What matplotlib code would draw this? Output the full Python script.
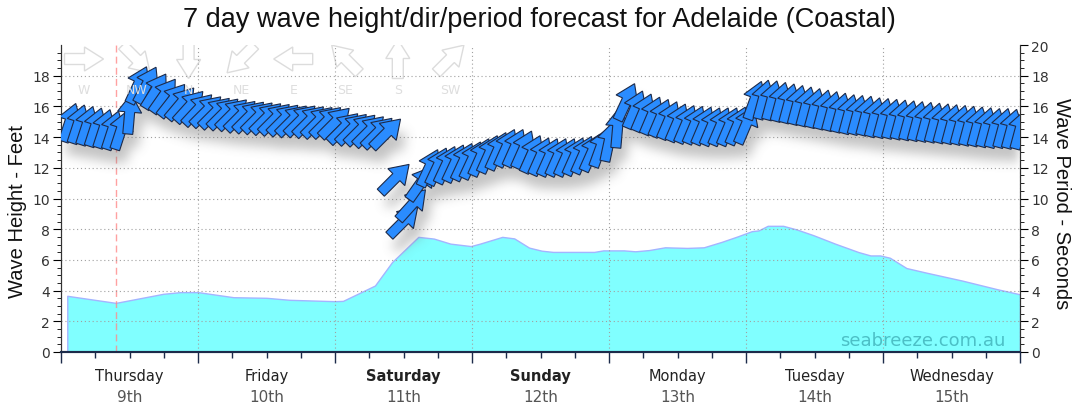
import numpy as np
import matplotlib
matplotlib.use("Agg")
import matplotlib.pyplot as plt
from matplotlib.patches import Polygon
from matplotlib.path import Path
from matplotlib.transforms import blended_transform_factory

plt.rcParams['font.family'] = ['DejaVu Sans']

# --- hauteur des vagues (pieds): heure depuis jeudi 0h ---
haut_h = [1.1, 9.6, 17.9, 20.9, 24, 30.2, 36, 40, 48, 49.4, 55, 58, 62.6, 65.3, 68.2,
          71.8, 73.4, 77.3, 79.4, 82, 84.2, 86.2, 93.4, 95, 98.6, 100.6, 103, 105.8,
          109.7, 112.6, 115.7, 118.6, 121, 122.2, 123.8, 126.5, 128.9, 131.8, 135.6,
          139.7, 141.8, 143.5, 145.2, 148.1, 151.7, 157.9, 163.9, 167.5, 168]
haut_ft = [3.66, 3.2, 3.79, 3.9, 3.9, 3.57, 3.53, 3.4, 3.31, 3.33, 4.33, 5.86, 7.5, 7.39, 7.06,
           6.9, 7.06, 7.5, 7.4, 6.8, 6.6, 6.52, 6.52, 6.62, 6.62, 6.56, 6.64, 6.82,
           6.78, 6.82, 7.17, 7.54, 7.87, 7.92, 8.22, 8.22, 7.98, 7.61, 7.06,
           6.51, 6.29, 6.29, 6.14, 5.47, 5.16, 4.65, 4.1, 3.8, 3.75]

# --- période (s) et direction de provenance (deg), une flèche toutes les 1.5 h ---
pas_h = 1.5
periode = [14.95, 14.85, 14.75, 14.65, 14.55, 14.45, 14.45,
           15.5,
           17.4, 17.4, 17.0, 16.7, 16.4, 16.2, 16.0, 15.8,
           15.7, 15.6, 15.55, 15.5, 15.4, 15.35, 15.3, 15.25, 15.2, 15.15, 15.1, 15.1, 15.05, 15.0, 15.0, 14.95,
           14.6, 14.55, 14.5, 14.4, 14.3, 14.25,
           11.3,
           8.5, 9.6, 11.0, 12.0, 12.1, 12.2, 12.3, 12.4, 12.5,
           12.7, 12.9, 13.1, 13.3, 13.3, 13.2, 12.9, 12.75, 12.7, 12.7, 12.7, 12.75, 12.85, 13.0, 13.3, 13.7,
           14.6, 16.3, 15.8, 15.6, 15.4, 15.25, 15.1, 14.95, 14.85, 14.8, 14.75, 14.7, 14.7, 14.7, 14.75, 14.8,
           16.4, 16.45, 16.4, 16.3, 16.2, 16.1, 16.0, 15.9, 15.8, 15.7, 15.6, 15.5, 15.45, 15.4, 15.3, 15.25,
           15.2, 15.15, 15.1, 15.05, 15.0, 14.95, 14.9, 14.85, 14.8, 14.75, 14.7, 14.65, 14.6, 14.6, 14.55, 14.5]
direction = ([198]*7 + [185] +
             [205, 208, 212, 215, 218, 220, 222, 223] + [225]*16 + [225]*6 + [225] +
             [225, 222, 215] + [205]*6 +
             [204]*14 + [200, 192] +
             [185, 205] + [203]*14 +
             [200] + [195]*31)

jours = ["Thursday", "Friday", "Saturday", "Sunday", "Monday", "Tuesday", "Wednesday"]
dates = ["9th", "10th", "11th", "12th", "13th", "14th", "15th"]
weekend = ["Saturday", "Sunday"]
boussole = ["W", "NW", "N", "NE", "E", "SE", "S", "SW"]
boussole_deg = [270, 315, 0, 45, 90, 135, 180, 225]
maintenant_h = 9.6

W, H = 1080, 414
fig = plt.figure(figsize=(W/100, H/100), dpi=100)
ax = fig.add_axes([61/W, 61/H, 959/W, 307/H])
ax2 = ax.twinx()
ax.set_xlim(0, 168)
ax.set_ylim(0, 20)
ax2.set_ylim(0, 20)

# aire des hauteurs
ax.fill_between(haut_h, haut_ft, 0, color='#80ffff', edgecolor='#a4b4ff', lw=1, zorder=1)
ax.axvline(maintenant_h, color='#ff8a8a', ls=(0, (5, 3)), lw=1, alpha=0.8, zorder=2)

ax.set_xticks(range(0, 169, 24))
ax.set_xticks(range(0, 169, 6), minor=True)
ax.set_xticklabels([])
ax.set_yticks(range(0, 19, 2))
ax.set_yticks(np.arange(0, 20, 0.5), minor=True)
ax2.set_yticks(range(0, 21, 2))
ax2.set_yticks(np.arange(0, 20.01, 0.5), minor=True)
ax.grid(True, which='major', color='#a0a0a0', ls=(0, (1, 2.5)), lw=0.8)
ax.set_axisbelow(False)
for a in (ax, ax2):
    a.spines['top'].set_visible(False)
    a.spines['bottom'].set_color('#1c2b4a')
    a.spines['bottom'].set_linewidth(1.5)
    a.spines['left'].set_color('#333333')
    a.spines['right'].set_color('#333333')
ax.tick_params(axis='x', which='major', length=8, color='#1c2b4a', width=1)
ax.tick_params(axis='x', which='minor', length=4, color='#1c2b4a', width=1)
ax.tick_params(axis='y', which='major', length=6, labelsize=10, labelcolor='#333333', pad=2)
ax.tick_params(axis='y', which='minor', length=3)
ax2.tick_params(axis='y', which='major', length=6, labelsize=10, labelcolor='#333333', pad=2)
ax2.tick_params(axis='y', which='minor', length=3)

# libellés des jours
tr = blended_transform_factory(ax.transData, ax.transAxes)
for i in range(7):
    poids = 'bold' if jours[i] in weekend else 'normal'
    ax.text(12 + 24*i, -0.075, jours[i], transform=tr, ha='center', va='center',
            fontsize=10.5, color='#222222', fontweight=poids)
    ax.text(12 + 24*i, -0.145, dates[i], transform=tr, ha='center', va='center',
            fontsize=11, color='#555555')

def fleche_px(cx, cy, ang, L=40, hl=18, hw=24, sw=10):
    pts = np.array([(-L/2, -sw/2), (L/2-hl, -sw/2), (L/2-hl, -hw/2), (L/2, 0),
                    (L/2-hl, hw/2), (L/2-hl, sw/2), (-L/2, sw/2)])
    a = np.radians(ang)
    R = np.array([[np.cos(a), -np.sin(a)], [np.sin(a), np.cos(a)]])
    return pts @ R.T + [cx, cy]

# rose des directions (légende en haut)
for i, (nom, deg) in enumerate(zip(boussole, boussole_deg)):
    cx = 84 + 52.3*i
    cy = H - 60
    p = fleche_px(cx, cy, -90 - deg, L=39, hl=19, hw=24, sw=11)
    p = p / [W, H]
    ax.add_patch(Polygon(p, closed=True, transform=fig.transFigure, fc='white',
                         ec='#dcdcdc', lw=1, zorder=0.5))
    fig.text(cx/W, 1 - 90/H, nom, ha='center', va='center', fontsize=9, color='#dedede')

# flèches de période / direction
polys = []
for i, (p, d) in enumerate(zip(periode, direction)):
    t = pas_h*(i+1)
    cx, cy = ax2.transData.transform((t, p))
    polys.append(fleche_px(cx, cy, -90 - d))

# ombre floue sous les flèches
bx0, by0 = ax.bbox.x0, ax.bbox.y0
w, h = int(round(ax.bbox.width)), int(round(ax.bbox.height))
masque = np.zeros((h, w))
for poly in polys:
    q = poly + [6, -13] - [bx0, by0]
    x0, x1 = max(int(q[:, 0].min()), 0), min(int(q[:, 0].max()) + 2, w)
    y0, y1 = max(int(q[:, 1].min()), 0), min(int(q[:, 1].max()) + 2, h)
    if x1 <= x0 or y1 <= y0:
        continue
    gx, gy = np.meshgrid(np.arange(x0, x1) + 0.5, np.arange(y0, y1) + 0.5)
    dedans = Path(q).contains_points(np.c_[gx.ravel(), gy.ravel()]).reshape(gx.shape)
    masque[y0:y1, x0:x1] = np.maximum(masque[y0:y1, x0:x1], dedans)

def flou(a, r):
    k = 2*r + 1
    for axe in (0, 1):
        pad = [(0, 0), (0, 0)]
        pad[axe] = (r, r)
        b = np.pad(a, pad)
        c = np.cumsum(b, axis=axe)
        c = np.concatenate([np.zeros_like(np.take(c, [0], axis=axe)), c], axis=axe)
        n = a.shape[axe]
        a = (np.take(c, range(k, k+n), axis=axe) - np.take(c, range(0, n), axis=axe)) / k
    return a

ombre = flou(flou(flou(masque, 5), 5), 5)
rgba = np.zeros((h, w, 4))
rgba[..., :3] = 0.45
rgba[..., 3] = ombre*0.42
ax2.imshow(rgba, extent=(0, 168, 0, 20), origin='lower', aspect='auto', zorder=2,
           interpolation='nearest')
ax2.set_xlim(0, 168)
ax2.set_ylim(0, 20)

inv = ax2.transData.inverted()
for i, poly in enumerate(polys):
    ax2.add_patch(Polygon(inv.transform(poly), closed=True, fc='#2a8cff', ec='#1d2a48',
                          lw=0.8, zorder=3 + i*0.001))

ax.text(0.985, 0.04, 'seabreeze.com.au', transform=ax.transAxes, ha='right', va='center',
        fontsize=13, color='#4cc0c6', zorder=5)

fig.text(539/W, 1 - 20/H, '7 day wave height/dir/period forecast for Adelaide (Coastal)',
         ha='center', va='center', fontsize=19.5, family=['Liberation Sans', 'DejaVu Sans'],
         color='#111111')
fig.text(18/W, 1 - 211/H, 'Wave Height - Feet', rotation=90, ha='center', va='center',
         fontsize=14.5, family=['Liberation Sans', 'DejaVu Sans'], color='#111111')
fig.text(1062/W, 1 - 204/H, 'Wave Period - Seconds', rotation=-90, ha='center', va='center',
         fontsize=14.5, family=['Liberation Sans', 'DejaVu Sans'], color='#111111')

fig.savefig('out.png', dpi=100, facecolor='white')
